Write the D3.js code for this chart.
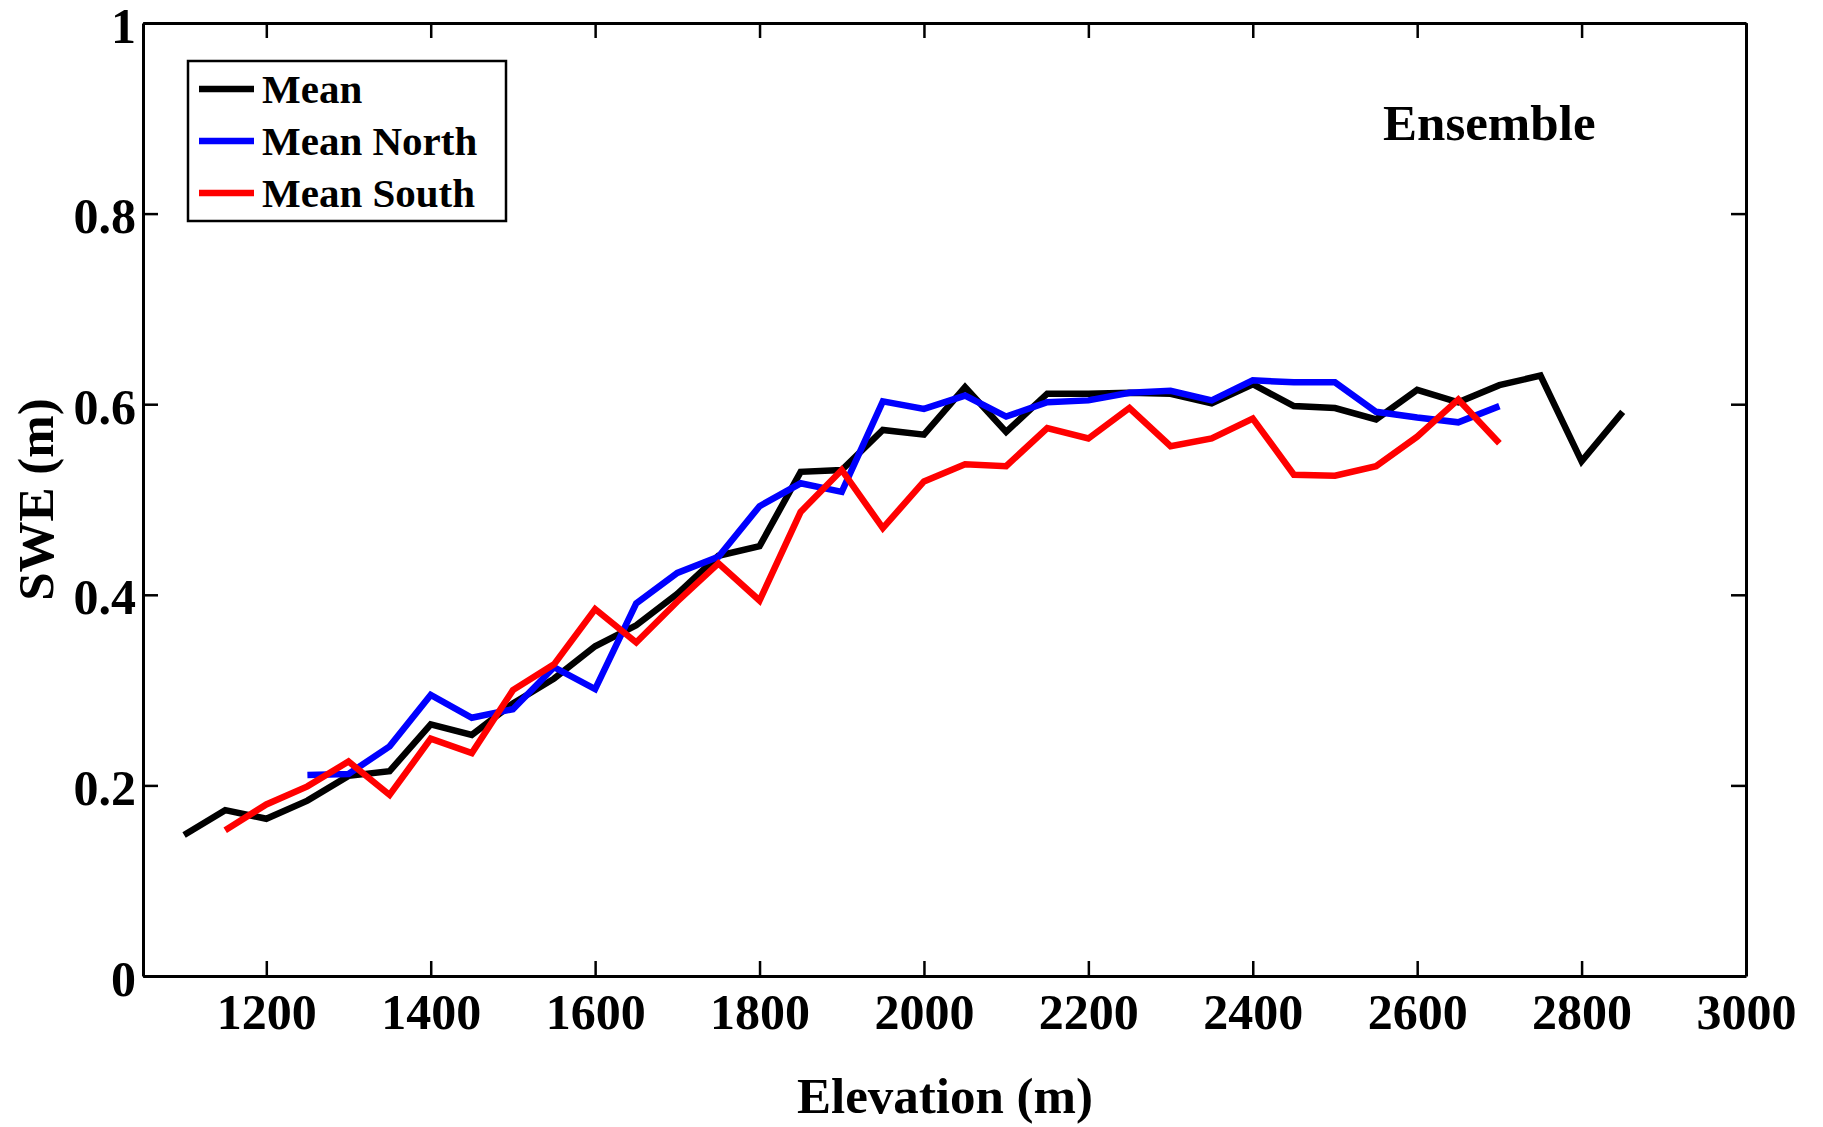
<!DOCTYPE html>
<html>
<head>
<meta charset="utf-8">
<script src="https://cdn.jsdelivr.net/npm/d3@7"></script>
<style>
  body { margin: 0; background: #fff; }
  text { font-family: "Liberation Serif", "Times New Roman", serif; font-weight: bold; fill: #000; }
</style>
</head>
<body>
<div id="chart"></div>
<script>
// elevation bins (m) and SWE (m) for each series
const elevMean = [1100, 1150, 1200, 1250, 1300, 1350, 1400, 1450, 1500, 1550, 1600, 1650,
                  1700, 1750, 1800, 1850, 1900, 1950, 2000, 2050, 2100, 2150, 2200, 2250,
                  2300, 2350, 2400, 2450, 2500, 2550, 2600, 2650, 2700, 2750, 2800, 2850];
const sweMean = [0.148, 0.174, 0.165, 0.184, 0.210, 0.215, 0.264, 0.253, 0.286, 0.312, 0.346, 0.368,
                 0.401, 0.441, 0.451, 0.529, 0.531, 0.573, 0.568, 0.618, 0.571, 0.611, 0.611, 0.612,
                 0.611, 0.601, 0.621, 0.598, 0.596, 0.584, 0.615, 0.602, 0.620, 0.630, 0.540, 0.592];

const elevNorth = [1250, 1300, 1350, 1400, 1450, 1500, 1550, 1600, 1650, 1700,
                   1750, 1800, 1850, 1900, 1950, 2000, 2050, 2100, 2150, 2200,
                   2250, 2300, 2350, 2400, 2450, 2500, 2550, 2600, 2650, 2700];
const sweNorth = [0.211, 0.212, 0.241, 0.295, 0.271, 0.280, 0.324, 0.301, 0.391, 0.423,
                  0.440, 0.493, 0.517, 0.508, 0.603, 0.595, 0.609, 0.587, 0.602, 0.604,
                  0.612, 0.614, 0.604, 0.625, 0.623, 0.623, 0.592, 0.586, 0.581, 0.598];

const elevSouth = [1150, 1200, 1250, 1300, 1350, 1400, 1450, 1500, 1550, 1600, 1650,
                   1700, 1750, 1800, 1850, 1900, 1950, 2000, 2050, 2100, 2150, 2200,
                   2250, 2300, 2350, 2400, 2450, 2500, 2550, 2600, 2650, 2700];
const sweSouth = [0.153, 0.180, 0.199, 0.225, 0.190, 0.249, 0.234, 0.300, 0.327, 0.385, 0.350,
                  0.393, 0.433, 0.394, 0.487, 0.531, 0.470, 0.519, 0.537, 0.535, 0.575, 0.564,
                  0.596, 0.556, 0.564, 0.585, 0.526, 0.525, 0.535, 0.566, 0.605, 0.559];

const seriesNames = ["Mean", "Mean North", "Mean South"];
const seriesColors = ["#000000", "#0000ff", "#ff0000"];

const xTicks = [1200, 1400, 1600, 1800, 2000, 2200, 2400, 2600, 2800, 3000];
const yTicks = [0, 0.2, 0.4, 0.6, 0.8, 1];

const margin = {top: 23, right: 77, bottom: 151, left: 143},
      width = 1823 - margin.left - margin.right,
      height = 1127 - margin.top - margin.bottom;

const svg = d3.select("#chart")
              .append("svg")
              .attr("width", width + margin.left + margin.right)
              .attr("height", height + margin.top + margin.bottom)
              .append("g")
              .attr("transform", `translate(${margin.left},${margin.top})`);

const x = d3.scaleLinear().domain([1050, 3000]).range([0, width]);
const y = d3.scaleLinear().domain([0, 1]).range([height, 0]);

const series = [
  {name: seriesNames[0], color: seriesColors[0], values: elevMean.map((e, i) => ({e, v: sweMean[i]}))},
  {name: seriesNames[1], color: seriesColors[1], values: elevNorth.map((e, i) => ({e, v: sweNorth[i]}))},
  {name: seriesNames[2], color: seriesColors[2], values: elevSouth.map((e, i) => ({e, v: sweSouth[i]}))}
];

// axes, ticks pointing inward on all four sides
const tick = 15;
const styleAxis = g => {
  g.selectAll(".domain").attr("stroke", "#000").attr("stroke-width", 3);
  g.selectAll(".tick line").attr("stroke", "#000").attr("stroke-width", 2.5);
  g.selectAll("text").attr("font-family", null).style("font-size", "50px").attr("fill", "#000");
};

svg.append("g")
   .attr("transform", `translate(0,${height})`)
   .call(d3.axisBottom(x).tickValues(xTicks).tickFormat(d3.format("d"))
           .tickSizeInner(-tick).tickSizeOuter(0).tickPadding(17))
   .call(styleAxis);

svg.append("g")
   .call(d3.axisLeft(y).tickValues(yTicks).tickFormat(d3.format("~g"))
           .tickSizeInner(-tick).tickSizeOuter(0).tickPadding(7))
   .call(styleAxis)
   .call(g => g.selectAll("text").attr("dy", "0.38em"));

svg.append("g")
   .call(d3.axisTop(x).tickValues(xTicks).tickFormat("").tickSizeInner(-tick).tickSizeOuter(0))
   .call(styleAxis);

svg.append("g")
   .attr("transform", `translate(${width},0)`)
   .call(d3.axisRight(y).tickValues(yTicks).tickFormat("").tickSizeInner(-tick).tickSizeOuter(0))
   .call(styleAxis);

// lines
const line = d3.line().x(d => x(d.e)).y(d => y(d.v));

svg.selectAll(".series")
   .data(series)
   .enter()
   .append("path")
   .attr("class", "series")
   .attr("fill", "none")
   .attr("stroke", d => d.color)
   .attr("stroke-width", 6.5)
   .attr("stroke-linejoin", "miter")
   .attr("d", d => line(d.values));

// axis titles
svg.append("text")
   .attr("x", 945 - margin.left)
   .attr("y", 1113 - margin.top)
   .attr("text-anchor", "middle")
   .style("font-size", "51px")
   .text("Elevation (m)");

svg.append("text")
   .attr("transform", `translate(${53 - margin.left},${height / 2}) rotate(-90)`)
   .attr("text-anchor", "middle")
   .style("font-size", "51px")
   .text("SWE (m)");

svg.append("text")
   .attr("x", 1383 - margin.left)
   .attr("y", 140 - margin.top)
   .style("font-size", "51px")
   .text("Ensemble");

// legend
const legend = svg.append("g").attr("transform", `translate(${188 - margin.left},${61 - margin.top})`);

legend.append("rect")
      .attr("width", 318)
      .attr("height", 160)
      .attr("fill", "#fff")
      .attr("stroke", "#000")
      .attr("stroke-width", 2.5);

const item = legend.selectAll(".item")
                   .data(series)
                   .enter()
                   .append("g")
                   .attr("class", "item")
                   .attr("transform", (d, i) => `translate(0,${28 + i * 52})`);

item.append("line")
    .attr("x1", 11).attr("x2", 66)
    .attr("stroke", d => d.color)
    .attr("stroke-width", 6.5);

item.append("text")
    .attr("x", 74)
    .attr("dy", "0.35em")
    .style("font-size", "41px")
    .text(d => d.name);
</script>
</body>
</html>
